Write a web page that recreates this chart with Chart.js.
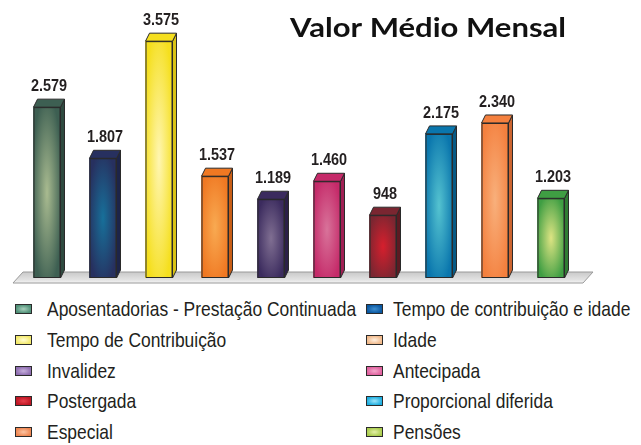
<!DOCTYPE html>
<html>
<head>
<meta charset="utf-8">
<script src="https://cdn.jsdelivr.net/npm/chart.js@4.4.1/dist/chart.umd.min.js"></script>
<style>
  body { margin: 0; background: #fff; }
  #wrap { position: relative; width: 641px; height: 445px; overflow: hidden; }
  #chartBox { position: absolute; left: 0; top: 0; width: 641px; height: 292px; }
  #legend { position: absolute; left: 0; top: 294px; width: 641px; }
  .item { position: absolute; height: 30px; font: 21px "Liberation Sans", Arial, sans-serif; color: #231f20; white-space: nowrap; line-height: 30px; }
  .box { position: absolute; top: 10px; width: 15px; height: 8px; border: 1px solid #2b2b2b; }
  .txt { position: absolute; top: 0; transform: scaleX(0.83); transform-origin: 0 50%; }
</style>
</head>
<body>
<div id="wrap">
  <div id="chartBox"><canvas id="valorChart"></canvas></div>
  <div id="legend"></div>
</div>
<script>
// Valor Médio Mensal - 3D bar chart
const categories = ['Aposentadorias - Prestação Continuada', 'Tempo de contribuição e idade',
    'Tempo de Contribuição', 'Idade', 'Invalidez', 'Antecipada', 'Postergada',
    'Proporcional diferida', 'Especial', 'Pensões'];
const values = [2579, 1807, 3575, 1537, 1189, 1460, 948, 2175, 2340, 1203];
const yMax = 4000;

// bar colours: edge, centre of the glow, side face
const edgeColors = ['#3d5f52', '#27305f', '#f5df1e', '#f07822', '#3b2b5e', '#c52a69', '#7a2631', '#0a76ad', '#f4803e', '#3f9e43'];
const centerColors = ['#a9bb90', '#17709a', '#fff6b2', '#f8aa52', '#806f92', '#d8739a', '#d61f2d', '#55c3d0', '#f8b07c', '#dde483'];
const sideColors = ['#2f4a40', '#1d2449', '#d9c316', '#c85e16', '#2c2048', '#a01f53', '#5c1a22', '#075a85', '#cc6530', '#2f7d33'];
// legend swatches
const legendEdge = ['#4f9077', '#0a57a0', '#f3e96a', '#f1b98a', '#8e6db0', '#e0609e', '#be1624', '#1daee0', '#ef8650', '#a9cc4c'];
const legendCenter = ['#a9d0bd', '#3f8fd0', '#fffcd2', '#fff0e0', '#c6b0dc', '#f4a8cc', '#e8404c', '#9ee4fa', '#fbc4a4', '#e4f0a8'];

const depthX = 4, depthY = 8;

function fmt(v) {
    return String(v).replace(/\B(?=(\d{3})+(?!\d))/g, '.');
}

const bar3d = {
    id: 'bar3d',
    beforeDatasetsDraw(chart) {
        const ctx = chart.ctx, a = chart.chartArea;
        const base = chart.scales.y.getPixelForValue(0);
        // floor
        ctx.save();
        ctx.beginPath();
        ctx.moveTo(a.left - 6, base + 5);
        ctx.lineTo(a.left + 4, base - 6);
        ctx.lineTo(a.right + 14, base - 6);
        ctx.lineTo(a.right + 4, base + 5);
        ctx.closePath();
        const g = ctx.createLinearGradient(0, base - 6, 0, base + 5);
        g.addColorStop(0, '#c9c9c9');
        g.addColorStop(0.7, '#e2e2e2');
        g.addColorStop(1, '#f4f4f4');
        ctx.fillStyle = g;
        ctx.fill();
        ctx.strokeStyle = '#9a9a9a';
        ctx.lineWidth = 1;
        ctx.stroke();
        ctx.restore();
    },
    afterDatasetsDraw(chart) {
        const ctx = chart.ctx;
        const meta = chart.getDatasetMeta(0);
        meta.data.forEach((bar, i) => {
            const w = bar.width, l = bar.x - w / 2, r = bar.x + w / 2;
            const top = bar.y, base = bar.base, h = base - top;
            ctx.save();
            // front with glow
            ctx.save();
            ctx.beginPath();
            ctx.rect(l, top, w, h);
            ctx.clip();
            ctx.translate(bar.x, top + h / 2);
            ctx.scale(w / 2, h / 2);
            const rg = ctx.createRadialGradient(0, 0, 0, 0, 0, 1.15);
            rg.addColorStop(0, centerColors[i]);
            rg.addColorStop(1, edgeColors[i]);
            ctx.fillStyle = rg;
            ctx.fillRect(-1, -1, 2, 2);
            ctx.restore();
            ctx.lineWidth = 1;
            ctx.strokeStyle = '#2a2a2a';
            ctx.lineJoin = 'round';
            // side
            ctx.beginPath();
            ctx.moveTo(r, top);
            ctx.lineTo(r + depthX, top - depthY);
            ctx.lineTo(r + depthX, base - depthY);
            ctx.lineTo(r, base);
            ctx.closePath();
            ctx.fillStyle = sideColors[i];
            ctx.fill();
            ctx.stroke();
            // top
            ctx.beginPath();
            ctx.moveTo(l, top);
            ctx.lineTo(l + depthX, top - depthY);
            ctx.lineTo(r + depthX, top - depthY);
            ctx.lineTo(r, top);
            ctx.closePath();
            ctx.fillStyle = edgeColors[i];
            ctx.fill();
            ctx.stroke();
            ctx.strokeRect(l + 0.5, top + 0.5, w - 1, h - 1);
            // value label, condensed
            ctx.fillStyle = '#231f20';
            ctx.font = 'bold 17px "Liberation Sans", Arial, sans-serif';
            ctx.textAlign = 'center';
            ctx.textBaseline = 'alphabetic';
            ctx.translate(bar.x + depthX / 2, top - depthY - 8);
            ctx.scale(0.85, 1);
            ctx.fillText(fmt(values[i]), 0, 0);
            ctx.restore();
        });
        // title, stretched to the width of the original lettering
        ctx.save();
        ctx.fillStyle = '#111';
        ctx.font = 'bold 26px Lato, "DejaVu Sans", sans-serif';
        ctx.textAlign = 'left';
        ctx.textBaseline = 'alphabetic';
        const title = 'Valor Médio Mensal';
        const sx = 276 / ctx.measureText(title).width;
        ctx.translate(290, 37);
        ctx.scale(sx, 1);
        ctx.fillText(title, 0, 0);
        ctx.restore();
    }
};

const ctx = document.getElementById('valorChart').getContext('2d');
const valorChart = new Chart(ctx, {
    type: 'bar',
    data: {
        labels: categories,
        datasets: [{
            label: 'Valor Médio Mensal',
            data: values,
            backgroundColor: edgeColors,
            borderWidth: 0,
            barThickness: 27
        }]
    },
    options: {
        responsive: true,
        maintainAspectRatio: false,
        animation: false,
        layout: { padding: { left: 19, right: 62, top: 13, bottom: 14 } },
        scales: {
            x: { display: false },
            y: { display: false, min: 0, max: yMax }
        },
        plugins: {
            legend: { display: false },
            tooltip: { enabled: false }
        }
    },
    plugins: [bar3d]
});

// two-column legend
const legendEl = document.getElementById('legend');
categories.forEach((name, i) => {
    const col = i % 2, row = Math.floor(i / 2);
    const item = document.createElement('div');
    item.className = 'item';
    item.style.top = (row * 30.8) + 'px';
    item.style.left = (col ? 366 : 15) + 'px';
    const box = document.createElement('span');
    box.className = 'box';
    box.style.left = '0px';
    box.style.background = 'radial-gradient(ellipse at center, ' + legendCenter[i] + ' 0%, ' + legendEdge[i] + ' 75%)';
    const txt = document.createElement('span');
    txt.className = 'txt';
    txt.textContent = name;
    txt.style.left = (col ? 27 : 32) + 'px';
    item.appendChild(box);
    item.appendChild(txt);
    legendEl.appendChild(item);
});
</script>
</body>
</html>
